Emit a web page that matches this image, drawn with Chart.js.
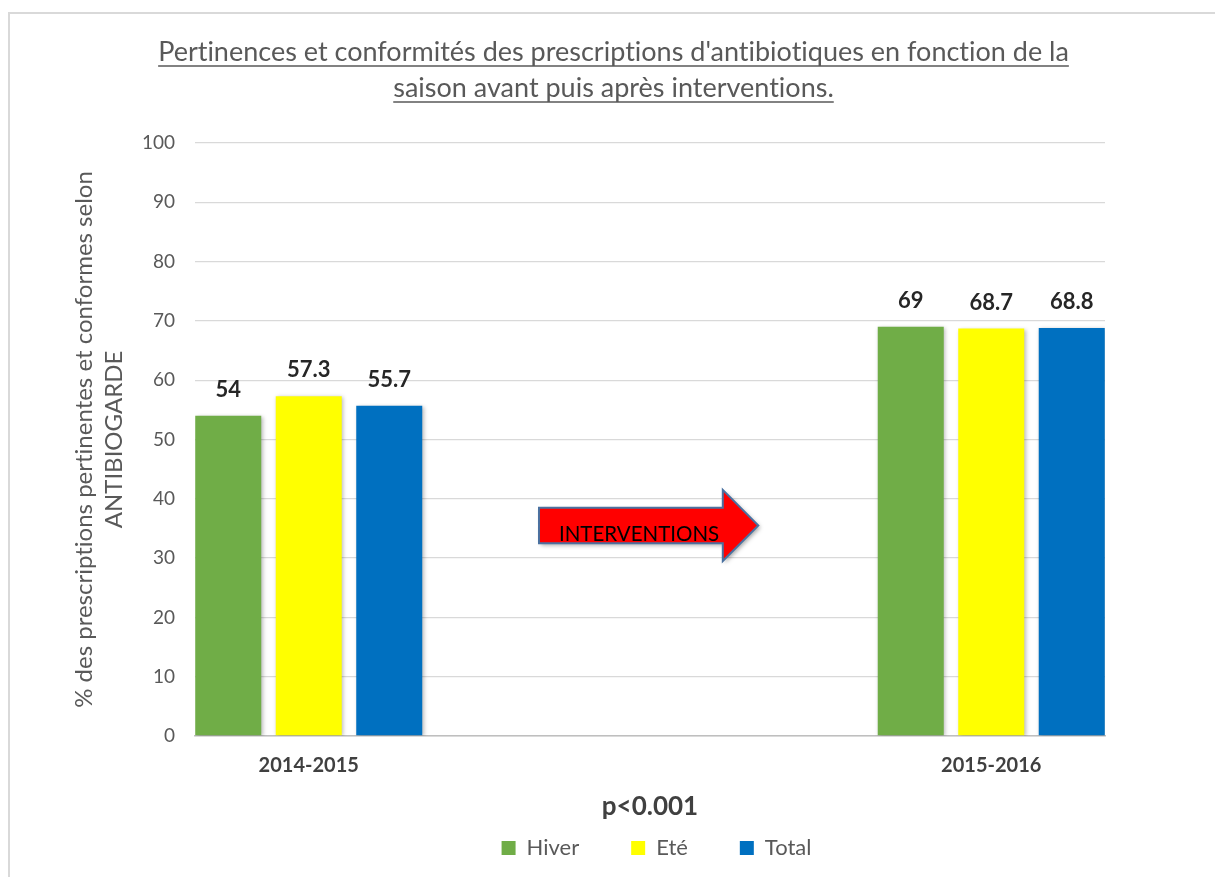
<!DOCTYPE html>
<html><head><meta charset="utf-8">
<script src="https://cdn.jsdelivr.net/npm/chart.js@4.4.1/dist/chart.umd.min.js"></script>
<style>
html,body{margin:0;padding:0;background:#fff;}
#wrap{position:relative;width:1215px;height:877px;overflow:hidden;background:#fff;}
#frame{position:absolute;left:8px;top:12px;width:1400px;height:1000px;border-left:2px solid #d9d9d9;border-top:2px solid #d9d9d9;}
canvas{position:absolute;left:0;top:0;}
</style></head><body>
<div id="wrap"><div id="frame"></div><canvas id="c" width="1215" height="877"></canvas></div>
<script>
// ---- data ----
const titleLines = ["Pertinences et conformités des prescriptions d'antibiotiques en fonction de la", "saison avant puis après interventions."];
const categories = ['2014-2015', '', '', '2015-2016'];
const seriesNames = ['Hiver', 'Eté', 'Total'];
const hiver = [54, null, null, 69];
const ete = [57.3, null, null, 68.7];
const total = [55.7, null, null, 68.8];
const yMin = 0, yMax = 100, yStep = 10;
const yAxisTitle = ['% des prescriptions pertinentes et conformes selon', 'ANTIBIOGARDE'];
const xAxisTitle = 'p<0.001';
const arrowLabel = 'INTERVENTIONS';
const seriesColors = ['#70AD47', '#FFFF00', '#0070C0'];

const FONT = 'Lato';

function noLigatures(ctx) {
  if ('textRendering' in ctx) ctx.textRendering = 'optimizeSpeed';
}

const decoPlugin = {
  id: 'deco',
  beforeDraw(chart) { noLigatures(chart.ctx); },
  beforeDatasetsDraw(chart) {
    const ctx = chart.ctx;
    ctx.save();
    ctx.shadowColor = 'rgba(0,0,0,0.28)';
    ctx.shadowBlur = 4;
    ctx.shadowOffsetX = 1.5;
    ctx.shadowOffsetY = 1;
  },
  afterDatasetsDraw(chart) {
    const ctx = chart.ctx;
    ctx.restore();
    // data labels
    ctx.save();
    ctx.font = 'bold 22px ' + FONT;
    ctx.fillStyle = '#262626';
    ctx.textAlign = 'center';
    ctx.textBaseline = 'middle';
    chart.data.datasets.forEach((ds, di) => {
      const meta = chart.getDatasetMeta(di);
      meta.data.forEach((el, i) => {
        const v = ds.data[i];
        if (v === null || v === undefined) return;
        ctx.fillText(String(v), el.x, el.y - 26);
      });
    });
    ctx.restore();
    // arrow annotation
    const ys = chart.scales.y, a = chart.chartArea, w = a.right - a.left;
    const xL = a.left + 0.378 * w, xH = a.left + 0.580 * w, xT = a.left + 0.619 * w;
    const yBt = ys.getPixelForValue(38.5), yBb = ys.getPixelForValue(32.5);
    const yHt = ys.getPixelForValue(41.5), yHb = ys.getPixelForValue(29.5), yM = ys.getPixelForValue(35.5);
    ctx.save();
    ctx.beginPath();
    ctx.moveTo(xL, yBt); ctx.lineTo(xH, yBt); ctx.lineTo(xH, yHt); ctx.lineTo(xT, yM);
    ctx.lineTo(xH, yHb); ctx.lineTo(xH, yBb); ctx.lineTo(xL, yBb); ctx.closePath();
    ctx.shadowColor = 'rgba(0,0,0,0.35)'; ctx.shadowBlur = 4; ctx.shadowOffsetX = 2; ctx.shadowOffsetY = 2;
    ctx.fillStyle = '#FF0000';
    ctx.fill();
    ctx.shadowColor = 'transparent';
    ctx.lineWidth = 2; ctx.strokeStyle = '#4A71A0'; ctx.lineJoin = 'miter';
    ctx.stroke();
    ctx.font = '20.5px ' + FONT;
    ctx.fillStyle = '#000';
    ctx.textAlign = 'left';
    ctx.textBaseline = 'alphabetic';
    ctx.fillText(arrowLabel, xL + 20, yBb - 2);
    ctx.restore();
  },
  afterDraw(chart) {
    const ctx = chart.ctx;
    ctx.save();
    noLigatures(ctx);
    ctx.font = '27px ' + FONT;
    ctx.fillStyle = '#595959';
    ctx.strokeStyle = '#595959';
    ctx.lineWidth = 1.4;
    ctx.textAlign = 'center';
    ctx.textBaseline = 'alphabetic';
    const cx = chart.width / 2 + 6;
    const baselines = [61, 97];
    titleLines.forEach((t, i) => {
      ctx.fillText(t, cx, baselines[i]);
      const tw = ctx.measureText(t).width;
      ctx.beginPath();
      ctx.moveTo(cx - tw / 2, baselines[i] + 5);
      ctx.lineTo(cx + tw / 2, baselines[i] + 5);
      ctx.stroke();
    });
    ctx.restore();
  }
};

const datasets = [hiver, ete, total].map((d, i) => ({
  label: seriesNames[i],
  data: d,
  backgroundColor: seriesColors[i],
  borderWidth: 0,
  categoryPercentage: 1.0615,
  barPercentage: 0.82
}));

new Chart(document.getElementById('c'), {
  type: 'bar',
  data: { labels: categories, datasets },
  options: {
    responsive: false,
    animation: false,
    devicePixelRatio: 1,
    layout: { padding: { top: 143, left: 98, right: 0, bottom: 8 } },
    plugins: {
      title: { display: false },
      tooltip: { enabled: false },
      legend: {
        position: 'bottom',
        labels: {
          boxWidth: 14, boxHeight: 14, padding: 52,
          color: '#595959',
          font: { family: FONT, size: 22 }
        }
      }
    },
    scales: {
      x: {
        grid: { display: false, drawTicks: false },
        border: { display: true, color: '#bfbfbf', width: 1.5 },
        ticks: {
          autoSkip: false, maxRotation: 0, padding: 18,
          color: '#404040',
          font: { family: FONT, size: 20, weight: 'bold' }
        },
        title: {
          display: true, text: xAxisTitle, color: '#404040',
          font: { family: FONT, size: 26, weight: 'bold' },
          padding: { top: 0, bottom: -37.6 }
        },
        afterFit(s) { s.height = 49; }
      },
      y: {
        min: yMin, max: yMax,
        ticks: {
          stepSize: yStep, padding: 20, color: '#595959',
          font: { family: FONT, size: 19 }
        },
        grid: { color: '#d9d9d9', lineWidth: 1.3, drawTicks: false },
        border: { display: false },
        title: {
          display: true, text: yAxisTitle, color: '#595959',
          font: { family: FONT, size: 24, lineHeight: 1.25 },
          padding: { top: -29, bottom: 0 }
        },
        afterFit(s) { s.width = 97; }
      },
      y2: {
        position: 'right', display: true,
        ticks: { display: false },
        grid: { display: false, drawTicks: false },
        border: { display: false },
        afterFit(s) { s.width = 110; }
      }
    }
  },
  plugins: [decoPlugin]
});
</script>
</body></html>
